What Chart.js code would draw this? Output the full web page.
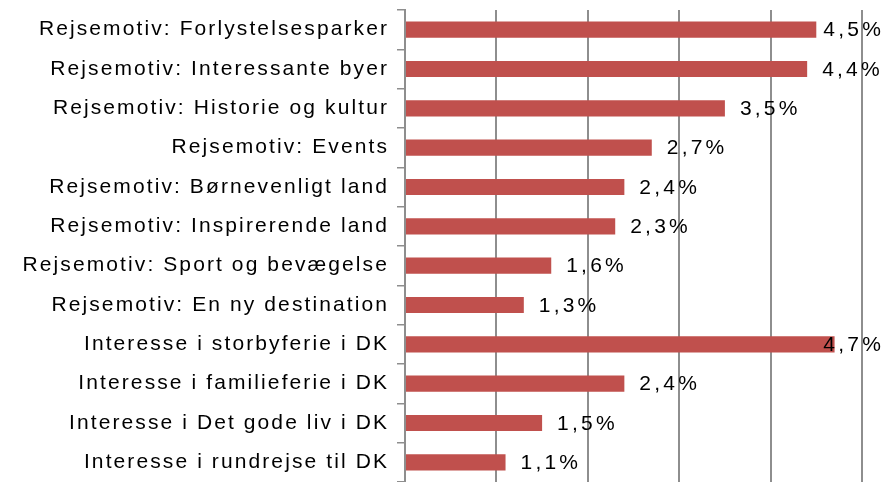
<!DOCTYPE html>
<html>
<head>
<meta charset="utf-8">
<script src="https://cdn.jsdelivr.net/npm/chart.js@4.4.1/dist/chart.umd.min.js"></script>
<style>
  html, body { margin: 0; padding: 0; background: #ffffff; }
  #wrap { width: 894px; height: 482px; position: relative; }
</style>
</head>
<body>
<div id="wrap"><canvas id="c" width="894" height="482"></canvas></div>
<script>
const categories = [
  "Rejsemotiv: Forlystelsesparker",
  "Rejsemotiv: Interessante byer",
  "Rejsemotiv: Historie og kultur",
  "Rejsemotiv: Events",
  "Rejsemotiv: Børnevenligt land",
  "Rejsemotiv: Inspirerende land",
  "Rejsemotiv: Sport og bevægelse",
  "Rejsemotiv: En ny destination",
  "Interesse i storbyferie i DK",
  "Interesse i familieferie i DK",
  "Interesse i Det gode liv i DK",
  "Interesse i rundrejse til DK"
];
const values = [4.5, 4.4, 3.5, 2.7, 2.4, 2.3, 1.6, 1.3, 4.7, 2.4, 1.5, 1.1];
const valueLabels = ["4,5%", "4,4%", "3,5%", "2,7%", "2,4%", "2,3%", "1,6%", "1,3%", "4,7%", "2,4%", "1,5%", "1,1%"];
const axisMin = 0;
const axisMax = 5;
const axisStep = 1;

const FONT = "'Liberation Sans', Arial, sans-serif";
const CAT_SPACING = '2.1px';
const LBL_SPACING = '3.2px';

const spacingPlugin = {
  id: 'spacing',
  beforeLayout(chart) { chart.ctx.letterSpacing = CAT_SPACING; },
  beforeDraw(chart) { chart.ctx.letterSpacing = CAT_SPACING; }
};

const labelPlugin = {
  id: 'valueLabels',
  afterDatasetsDraw(chart) {
    const ctx = chart.ctx;
    const meta = chart.getDatasetMeta(0);
    ctx.save();
    ctx.letterSpacing = LBL_SPACING;
    ctx.font = "21px " + FONT;
    ctx.fillStyle = '#000000';
    ctx.textAlign = 'left';
    ctx.textBaseline = 'middle';
    meta.data.forEach((bar, i) => {
      const txt = valueLabels[i];
      const w = ctx.measureText(txt).width;
      let x = bar.x + 15;
      const maxRight = 884;
      if (x + w > maxRight) x = maxRight - w;
      ctx.fillText(txt, x, bar.y + 1);
    });
    ctx.restore();
  }
};

new Chart(document.getElementById('c'), {
  type: 'bar',
  data: {
    labels: categories,
    datasets: [{
      data: values,
      backgroundColor: '#C0504D',
      borderWidth: 0,
      barPercentage: 0.41,
      categoryPercentage: 1.0
    }]
  },
  options: {
    indexAxis: 'y',
    responsive: false,
    animation: false,
    devicePixelRatio: 1,
    layout: { padding: { left: 0, right: 32, top: 10, bottom: 0 } },
    plugins: {
      legend: { display: false },
      tooltip: { enabled: false },
      title: { display: false }
    },
    scales: {
      x: {
        min: axisMin,
        max: axisMax,
        ticks: { display: false, stepSize: axisStep },
        grid: { color: '#8e8e8e', lineWidth: 2, drawTicks: false },
        border: { display: false },
        afterFit(scale) {
          scale.height = 0;
          scale.paddingLeft = 0; scale.paddingRight = 0;
        }
      },
      y: {
        ticks: {
          color: '#000000',
          font: { family: FONT, size: 21 },
          padding: 8,
          autoSkip: false
        },
        grid: {
          offset: true,
          drawOnChartArea: false,
          drawTicks: true,
          tickLength: 8,
          color: '#8e8e8e',
          lineWidth: 1.5
        },
        border: { display: true, color: '#8e8e8e', width: 2 },
        afterFit(scale) {
          scale.width = 405;
          scale.paddingTop = 0; scale.paddingBottom = 0;
        }
      }
    }
  },
  plugins: [spacingPlugin, labelPlugin]
});
</script>
</body>
</html>
